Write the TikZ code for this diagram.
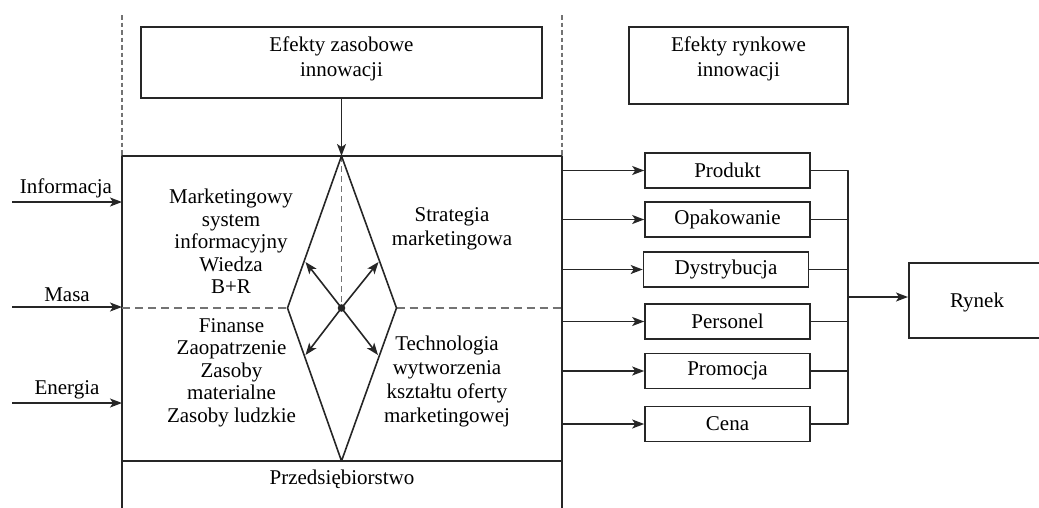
\documentclass[tikz,border=0pt]{standalone}
\usepackage{fontspec}
\setmainfont{Liberation Serif}
\usetikzlibrary{arrows.meta}
\newcommand\diagfont{\fontsize{21}{22.5}\selectfont}
\begin{document}
\begin{tikzpicture}[x=1pt,y=-1pt,
  every node/.style={font=\diagfont, inner sep=0pt, align=center},
  line/.style={line width=1.6pt, draw=black!85, line join=round},
  arr/.style={line, -{Stealth[length=12pt,width=9pt,inset=3pt]}},
  itembox/.style={draw=black!85, line width=1.6pt, minimum width=165pt, minimum height=35pt},
  headbox/.style={draw=black!85, line width=1.6pt},
  guide/.style={draw=black!55, line width=1.8pt, dash pattern=on 4.5pt off 3pt},
  split/.style={draw=black!55, line width=1.8pt, dash pattern=on 8pt off 5pt},
  axisline/.style={draw=black!55, line width=1.8pt, dash pattern=on 6pt off 4pt},
]
\useasboundingbox (0,0) rectangle (1039,507);
\clip (0,0) rectangle (1039,507);

% header boxes
\node[headbox, minimum width=401pt, minimum height=71pt] (zasbox) at (341.5,62.5) {};
\node[font=\fontsize{21}{25.5}\selectfont] (zas) at (341.5,59) {Efekty zasobowe\\innowacji};
\node[headbox, minimum width=219pt, minimum height=77pt] (rynbox) at (738.5,65.5) {};
\node[font=\fontsize{21}{25.5}\selectfont] (ryn) at (738.5,59) {Efekty rynkowe\\innowacji};

% frame of the enterprise
\coordinate (ftl) at (122,156);
\coordinate (ftr) at (562,156);
\coordinate (fbl) at (122,512);
\coordinate (fbr) at (562,512);
\coordinate (gtl) at (122,15);
\coordinate (gtr) at (562,15);
\coordinate (pl) at (122,461);
\coordinate (pr) at (562,461);
\draw[guide] (gtl) -- (ftl);
\draw[guide] (gtr) -- (ftr);
\draw[line] (fbl) -- (ftl) -- (ftr) -- (fbr);
\draw[line] (pl) -- (pr);

% diamond
\coordinate (dt) at (341.5,156);
\coordinate (dl) at (287.5,308);
\coordinate (dr) at (396.5,308);
\coordinate (db) at (341.5,461);
\coordinate (dc) at (341.5,308);
\coordinate (aul) at (305.5,262);
\coordinate (aur) at (378.5,262);
\coordinate (all) at (305.5,355);
\coordinate (alr) at (378,355);
\draw[split] (ftl |- dc) -- (dl);
\draw[split] (dr) -- (ftr |- dc);
\draw[axisline] (dt) -- (dc);
\draw[line] (dt) -- (dl) -- (db) -- (dr) -- cycle;
\fill[black!85] (dc) circle (3.8pt);
\draw[arr] (dc) -- (aul);
\draw[arr] (dc) -- (aur);
\draw[arr] (dc) -- (all);
\draw[arr] (dc) -- (alr);
\draw[arr] (zasbox.south) -- (dt);

% inputs
\coordinate (i1) at (12,202);
\coordinate (i2) at (12,307);
\coordinate (i3) at (12,403);
\draw[arr] (i1) -- (ftl |- i1);
\draw[arr] (i2) -- (ftl |- i2);
\draw[arr] (i3) -- (ftl |- i3);
\node (linf) at (66,188) {Informacja};
\node (lmas) at (67,295) {Masa};
\node (lene) at (67,390) {Energia};

% texts inside the enterprise
\node (msi) at (231,241.5) {Marketingowy\\system\\informacyjny\\Wiedza\\B+R};
\node[font=\fontsize{21}{24}\selectfont] (strat) at (452,229) {Strategia\\marketingowa};
\node (fin) at (231.5,372.5) {Finanse\\Zaopatrzenie\\Zasoby\\materialne\\Zasoby ludzkie};
\node[font=\fontsize{21}{24}\selectfont] (tech) at (447,381) {Technologia\\wytworzenia\\kształtu oferty\\marketingowej};
\node (przed) at (342,479) {Przedsiębiorstwo};

% market instruments
\node[itembox] (prod) at (727.5,170.5) {Produkt};
\node[itembox] (opak) at (727.5,219.5) {Opakowanie};
\node[itembox] (dyst) at (726,269.5) {Dystrybucja};
\node[itembox] (pers) at (727.5,321.5) {Personel};
\node[itembox] (prom) at (727.5,371) {Promocja};
\node[itembox] (cena) at (727.5,424) {Cena};
\foreach \b in {prod,opak,dyst,pers,prom,cena}
  \draw[arr] (ftr |- \b) -- (\b.west);

% collector towards the market
\coordinate (cx) at (848,297);
\draw[line] (prod.east) -- (prod.east -| cx) -- (cena.east -| cx) -- (cena.east);
\foreach \b in {opak,dyst,pers,prom}
  \draw[line] (\b.east) -- (\b.east -| cx);
\node[headbox, minimum width=140pt, minimum height=75pt, anchor=west] (rynekbox) at (908,300.5) {};
\node (rynek) at (977,302) {Rynek};
\draw[arr] (cx) -- (rynekbox.west |- cx);
\end{tikzpicture}
\end{document}
